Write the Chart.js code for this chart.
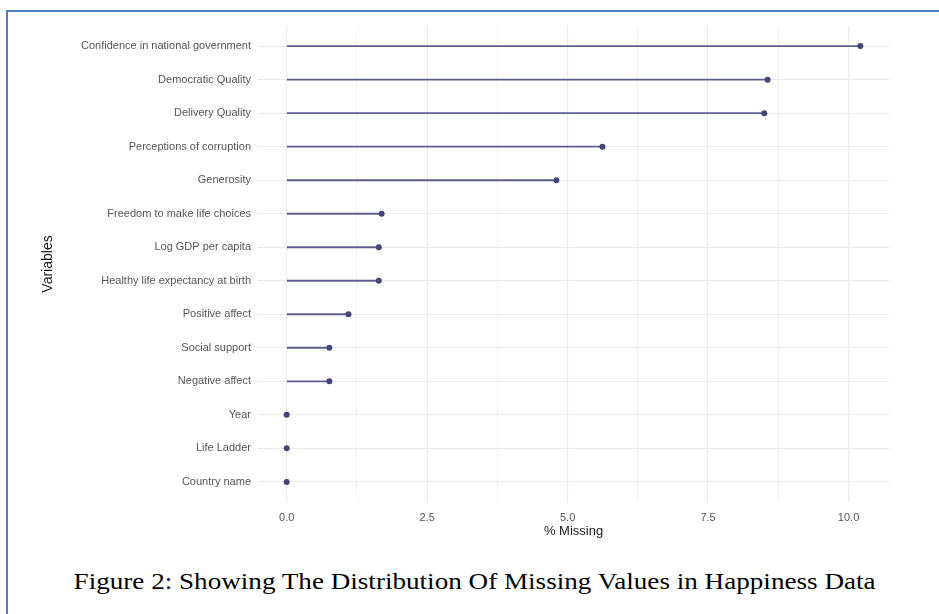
<!DOCTYPE html>
<html>
<head>
<meta charset="utf-8">
<script src="https://cdn.jsdelivr.net/npm/chart.js@4"></script>
<style>
  html, body { margin: 0; padding: 0; background: #fff; }
  body { width: 939px; height: 614px; position: relative; overflow: hidden; }
  #marco {
    position: absolute; left: 6px; top: 10px; right: 0; bottom: 0;
    border-left: 2px solid #4f81bd; border-top: 2px solid #4f81bd;
  }
  #caja { position: absolute; left: 0; top: 0; width: 939px; height: 540px; }
  #pie {
    position: absolute; left: 5px; width: 939px; top: 567px;
    text-align: center; font-family: "Liberation Serif", "DejaVu Serif", serif;
    font-size: 24px; color: #000; line-height: 28px;
    transform: scaleX(1.13); transform-origin: 469px 0;
  }
</style>
</head>
<body>
<div id="marco"></div>
<div id="caja"><canvas id="plot1"></canvas></div>
<div id="pie">Figure 2: Showing The Distribution Of Missing Values in Happiness Data</div>
<script>
// Variables (de arriba hacia abajo)
let variables = [
  'Confidence in national government',
  'Democratic Quality',
  'Delivery Quality',
  'Perceptions of corruption',
  'Generosity',
  'Freedom to make life choices',
  'Log GDP per capita',
  'Healthy life expectancy at birth',
  'Positive affect',
  'Social support',
  'Negative affect',
  'Year',
  'Life Ladder',
  'Country name'
];

// % de valores faltantes
let porcentajes = [10.21, 8.56, 8.50, 5.62, 4.80, 1.69, 1.64, 1.64, 1.10, 0.76, 0.76, 0, 0, 0];

// Etiquetas del eje x
let ticksX = [0, 2.5, 5, 7.5, 10];

let colorPunto = '#45447a';

let puntos = porcentajes.map((v, i) => ({ x: v, y: i }));

let plotRef = document.getElementById('plot1');

let config = {
  type: 'bar',
  data: {
    datasets: [
      {
        type: 'bar',
        label: 'segmento',
        data: puntos,
        backgroundColor: 'rgba(69,68,122,0.85)',
        barThickness: 1.2,
        borderWidth: 0,
        order: 2
      },
      {
        type: 'scatter',
        label: 'punto',
        data: puntos,
        backgroundColor: colorPunto,
        borderColor: colorPunto,
        pointRadius: 3,
        pointBorderWidth: 0,
        showLine: false,
        order: 1
      }
    ]
  },
  options: {
    indexAxis: 'y',
    responsive: true,
    maintainAspectRatio: false,
    animation: false,
    layout: { padding: { left: 40, top: 26, right: 50, bottom: 0 } },
    plugins: { legend: { display: false }, tooltip: { enabled: false } },
    scales: {
      x: {
        type: 'linear',
        position: 'bottom',
        min: -0.51,
        max: 10.72,
        offset: false,
        border: { display: false },
        grid: {
          offset: false,
          drawTicks: false,
          color: ctx => (ctx.tick && ticksX.includes(ctx.tick.value)) ? '#ebebeb' : '#f3f3f3',
          lineWidth: ctx => (ctx.tick && ticksX.includes(ctx.tick.value)) ? 1.2 : 1
        },
        afterBuildTicks: s => {
          let t = [];
          for (let k = 0; k <= 8; k++) t.push({ value: k * 1.25 });
          s.ticks = t;
        },
        afterFit: s => { s.height = 38; },
        ticks: {
          padding: 9,
          color: '#555555',
          font: { family: 'Liberation Sans', size: 11 },
          autoSkip: false,
          maxRotation: 0,
          callback: v => ticksX.includes(v) ? v.toFixed(1) : ''
        },
        title: {
          display: true,
          text: '% Missing',
          color: '#1a1a1a',
          font: { family: 'Liberation Sans', size: 13 },
          padding: { top: 0, bottom: 1 }
        }
      },
      y: {
        type: 'linear',
        reverse: true,
        min: -0.6,
        max: 13.6,
        offset: false,
        border: { display: false },
        grid: { offset: false, drawTicks: false, color: '#ebebeb', lineWidth: 1 },
        afterBuildTicks: s => {
          s.ticks = variables.map((_, i) => ({ value: i }));
        },
        afterFit: s => { s.width = 218; },
        ticks: {
          padding: 7,
          color: '#555555',
          font: { family: 'Liberation Sans', size: 11 },
          autoSkip: false,
          callback: v => variables[v]
        },
        title: {
          display: true,
          text: 'Variables',
          color: '#1a1a1a',
          font: { family: 'Liberation Sans', size: 14 },
          padding: { top: 0, bottom: 0 }
        }
      }
    }
  }
};

let chart1 = new Chart(plotRef, config);
</script>
</body>
</html>
